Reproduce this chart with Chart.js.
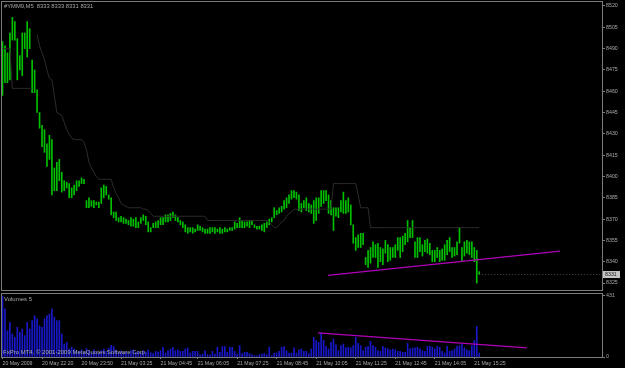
<!DOCTYPE html>
<html>
<head>
<meta charset="utf-8">
<script src="https://cdn.jsdelivr.net/npm/chart.js@4"></script>
<style>
  html, body { margin: 0; padding: 0; background: #000; }
  #wrap { position: relative; width: 625px; height: 368px; overflow: hidden; background: #000; }
  .pane { position: absolute; left: 0; width: 625px; }
  #mainPane { top: 0; height: 292px; }
  #volPane { top: 292px; height: 76px; }
</style>
</head>
<body>
<div id="wrap">
  <div class="pane" id="mainPane"><canvas id="priceChart" width="625" height="292"></canvas></div>
  <div class="pane" id="volPane"><canvas id="volChart" width="625" height="76"></canvas></div>
</div>
<script>
// YM (Dow mini) June 2009, 5 minute bars, 20 May 21:00 -> 21 May 15:35
const highs = [
  8495, 8492, 8487, 8501, 8512, 8509, 8497, 8485, 8501, 8501,
  8509, 8504, 8482, 8475, 8461, 8445, 8436, 8433, 8423, 8429,
  8426, 8406, 8410, 8412, 8403, 8397, 8396, 8395, 8392, 8394,
  8397, 8397, 8399, 8398, 8383, 8385, 8383, 8383, 8382, 8382,
  8392, 8394, 8393, 8387, 8385, 8375, 8375, 8371, 8372, 8371,
  8370, 8369, 8371, 8370, 8371, 8368, 8371, 8373, 8372, 8368,
  8364, 8367, 8368, 8369, 8371, 8371, 8373, 8373, 8374, 8375,
  8373, 8371, 8369, 8368, 8366, 8364, 8364, 8364, 8363, 8366,
  8365, 8364, 8363, 8363, 8364, 8364, 8364, 8363, 8364, 8363,
  8364, 8363, 8364, 8364, 8368, 8367, 8371, 8369, 8368, 8368,
  8369, 8369, 8366, 8365, 8365, 8366, 8367, 8368, 8370, 8371,
  8378, 8376, 8378, 8379, 8383, 8385, 8387, 8390, 8390, 8389,
  8387, 8381, 8383, 8385, 8381, 8380, 8383, 8385, 8385, 8390,
  8390, 8390, 8387, 8383, 8378, 8378, 8378, 8383, 8389, 8383,
  8385, 8380, 8366, 8357, 8359, 8360, 8360, 8343, 8348, 8350,
  8354, 8352, 8353, 8350, 8349, 8355, 8352, 8350, 8350, 8352,
  8357, 8357, 8358, 8360, 8369, 8364, 8369, 8354, 8357, 8357,
  8352, 8355, 8356, 8353, 8348, 8348, 8350, 8348, 8349, 8352,
  8355, 8357, 8350, 8350, 8354, 8364, 8350, 8354, 8355, 8354,
  8354, 8350, 8348, 8333
];
const lows = [
  8457, 8466, 8466, 8468, 8496, 8496, 8468, 8475, 8471, 8490,
  8484, 8490, 8459, 8459, 8445, 8434, 8421, 8417, 8407, 8412,
  8387, 8390, 8390, 8397, 8389, 8390, 8392, 8385, 8385, 8387,
  8390, 8393, 8395, 8395, 8378, 8378, 8379, 8378, 8380, 8378,
  8381, 8385, 8387, 8384, 8373, 8371, 8369, 8368, 8368, 8367,
  8367, 8366, 8365, 8365, 8364, 8364, 8367, 8369, 8366, 8361,
  8361, 8364, 8364, 8364, 8366, 8366, 8368, 8368, 8369, 8371,
  8369, 8368, 8366, 8364, 8361, 8360, 8361, 8360, 8361, 8362,
  8362, 8361, 8360, 8360, 8360, 8361, 8360, 8361, 8360, 8360,
  8361, 8361, 8362, 8362, 8363, 8364, 8364, 8364, 8364, 8365,
  8364, 8366, 8364, 8363, 8363, 8362, 8361, 8364, 8366, 8368,
  8371, 8373, 8374, 8375, 8377, 8378, 8381, 8384, 8385, 8384,
  8376, 8375, 8378, 8376, 8375, 8374, 8367, 8369, 8374, 8379,
  8381, 8383, 8374, 8373, 8362, 8372, 8371, 8375, 8374, 8374,
  8375, 8366, 8353, 8348, 8350, 8350, 8352, 8338, 8336, 8339,
  8343, 8343, 8336, 8340, 8338, 8346, 8340, 8341, 8343, 8343,
  8348, 8343, 8347, 8352, 8354, 8357, 8357, 8343, 8343, 8347,
  8344, 8347, 8346, 8345, 8340, 8340, 8343, 8340, 8341, 8341,
  8345, 8347, 8343, 8344, 8345, 8353, 8340, 8344, 8346, 8345,
  8343, 8340, 8325, 8331
];
// dark trailing line drawn over the bars
const trailStop = [
  8490, 8490, 8490, 8490,
  8462, 8462, 8462, 8462, 8462, 8462, 8462, 8462, 8462,
  null,
  8500, 8492, 8487, 8482, 8475, 8469, 8468, 8457, 8445, 8444,
  8443, 8438, 8433, 8430, 8427, 8426, 8426, 8426, 8426, 8424,
  8419, 8410, 8406, 8403, 8400,
  8398, 8398, 8398, 8398, 8398, 8398,
  8392, 8388, 8385, 8381, 8380, 8379,
  8378, 8378, 8378, 8378, 8378, 8378,
  8377, 8377, 8376, 8374,
  8372, 8372, 8372, 8372, 8372, 8372, 8372, 8372, 8372, 8372, 8372,
  8372, 8372, 8372, 8372, 8372, 8372, 8372, 8372, 8372, 8372, 8372,
  8369, 8369, 8369, 8369, 8369, 8369, 8369, 8369, 8369, 8369, 8369, 8369, 8369,
  8369, 8369, 8369, 8369, 8369, 8369, 8369, 8369, 8369, 8369, 8369, 8369,
  8368, 8366, 8364, 8364, 8366, 8368, 8369, 8372, 8374, 8375,
  8377, 8377, 8377, 8377, 8377, 8377, 8377, 8377,
  8377, 8377, 8377, 8377, 8377, 8377, 8377, 8377,
  8395, 8395, 8395, 8395, 8395, 8395, 8395, 8395, 8395, 8395,
  8387,
  8378, 8378, 8378, 8378,
  8364, 8364, 8364, 8364, 8364, 8364, 8364, 8364, 8364, 8364, 8364, 8364, 8364, 8364, 8364,
  8364, 8364, 8364, 8364, 8364, 8364, 8364, 8364, 8364, 8364, 8364, 8364, 8364, 8364, 8364,
  8364, 8364, 8364, 8364, 8364, 8364, 8364, 8364, 8364, 8364, 8364, 8364, 8364, 8364, 8364
];
const volumes = [
  431, 340, 186, 245, 163, 139, 210, 175, 198, 151,
  245, 198, 257, 292, 269, 221, 210, 269, 292, 304,
  340, 281, 257, 257, 163, 92, 104, 57, 69,
  57, 45, 40, 52, 35, 60, 45, 30, 50, 38, 28, 45, 55, 40, 62, 82, 75, 48,
  35, 42, 30, 38, 25, 45, 52, 33, 40, 28, 45, 35, 50, 30, 25, 40, 35,
  45, 69, 28, 45, 57, 69, 45, 50, 40, 40, 57, 64, 28, 40, 40, 40, 16,
  21, 45, 16, 16, 40, 21, 69, 33, 74, 74, 33, 69, 69, 40, 21, 80, 24,
  33, 33, 24, 16, 9, 9, 16, 21, 24, 16, 69, 9, 28, 28, 40, 69, 74, 45,
  28, 28, 64, 28, 50, 57, 40, 40, 24, 57, 139, 116, 104,
  170, 118, 75, 57, 104, 127, 87, 45, 80, 92, 64, 69, 64, 80, 139, 97,
  80, 45, 69, 75, 111, 80, 69, 45, 40, 75, 64, 57, 50, 57, 50, 40, 40,
  33, 33, 97, 57, 64, 64, 69, 57, 45, 40, 75, 75, 69, 57, 75, 69, 40,
  28, 75, 40, 45, 57, 75, 80, 92, 64, 50, 45, 80, 118, 217, 28
];

// time axis labels and the bar index each one sits on
const timeLabels = ['20 May 2009', '20 May 22:20', '20 May 23:50', '21 May 03:25', '21 May 04:45',
  '21 May 06:05', '21 May 07:25', '21 May 08:45', '21 May 10:05', '21 May 11:25',
  '21 May 12:45', '21 May 14:05', '21 May 15:25'];
const timeTickIdx = [0, 16, 32, 48, 64, 79, 95, 111, 127, 143, 159, 175, 191];
const priceTicks = [8325, 8340, 8355, 8370, 8385, 8400, 8415, 8430, 8445, 8460, 8475, 8490, 8505, 8520];
const volumeTicks = [0, 431];

// hand drawn trend lines: [bar index, value]
const priceTrend = [[131.8, 8330.4], [225.7, 8347.5]];
const volumeTrend = [[127.7, 170], [212.3, 64]];

const chartTitle = '#YMM9,M5  8333 8333 8331 8331';
const bidPrice = 8331;

const xMin = -0.2, xMax = 242.7;
const textColor = '#a8a8a8';
const frameColor = '#7c7c7c';
const fontFamily = '"Liberation Sans", Arial, sans-serif';

Chart.defaults.font.family = fontFamily;

function noPad(s) {
  s.paddingTop = 0; s.paddingBottom = 0; s.paddingLeft = 0; s.paddingRight = 0;
}

// price pane
const priceChart = new Chart(document.getElementById('priceChart').getContext('2d'), {
  type: 'bar',
  data: {
    datasets: [
      {
        type: 'line',
        data: priceTrend.map(p => ({ x: p[0], y: p[1] })),
        borderColor: '#b000b8',
        borderWidth: 1.2,
        pointRadius: 0,
        order: 0
      },
      {
        type: 'line',
        data: [{ x: highs.length - 1, y: bidPrice }, { x: xMax, y: bidPrice }],
        borderColor: '#4a4a4a',
        borderWidth: 1,
        borderDash: [1, 2],
        pointRadius: 0,
        order: 1
      },
      {
        type: 'line',
        data: trailStop.map((v, i) => ({ x: i, y: v })),
        borderColor: '#2c2c2c',
        borderWidth: 1,
        pointRadius: 0,
        tension: 0,
        order: 1
      },
      {
        data: highs.map((h, i) => ({ x: i, y: [lows[i], h] })),
        backgroundColor: '#00c000',
        borderWidth: 0,
        barThickness: 1,
        order: 2
      }
    ]
  },
  options: {
    responsive: false,
    animation: false,
    layout: { padding: { left: 2, top: 2, bottom: 2, right: 0 } },
    plugins: { legend: { display: false }, tooltip: { enabled: false } },
    scales: {
      x: { type: 'linear', min: xMin, max: xMax, offset: false, display: false, grid: { offset: false } },
      y: {
        position: 'right',
        min: 8320.1,
        max: 8522.8,
        afterBuildTicks: s => { s.ticks = priceTicks.map(v => ({ value: v })); },
        afterFit: s => { s.width = 23; noPad(s); },
        grid: { drawOnChartArea: false, drawTicks: true, tickLength: 3, color: frameColor },
        border: { display: false },
        ticks: { color: textColor, font: { size: 5.3 }, padding: 1, callback: v => String(v) }
      }
    }
  },
  plugins: [{
    id: 'priceFrame',
    afterDraw(chart) {
      const ctx = chart.ctx;
      ctx.save();
      ctx.strokeStyle = frameColor;
      ctx.lineWidth = 1;
      ctx.strokeRect(1.5, 1.5, 601, 289);
      ctx.fillStyle = textColor;
      ctx.textBaseline = 'middle';
      ctx.font = '5.8px ' + fontFamily;
      ctx.fillText(chartTitle, 4, 6.5);
      // current price box on the axis
      const yb = chart.scales.y.getPixelForValue(bidPrice);
      ctx.fillStyle = '#c4c4c4';
      ctx.fillRect(603, yb - 3.5, 17, 7);
      ctx.fillStyle = '#202020';
      ctx.font = '5.3px ' + fontFamily;
      ctx.fillText(String(bidPrice), 605, yb + 0.3);
      ctx.restore();
    }
  }]
});

// volume pane
const volChart = new Chart(document.getElementById('volChart').getContext('2d'), {
  type: 'bar',
  data: {
    datasets: [
      {
        type: 'line',
        data: volumeTrend.map(p => ({ x: p[0], y: p[1] })),
        borderColor: '#b000b8',
        borderWidth: 1.2,
        pointRadius: 0,
        order: 0
      },
      {
        data: volumes.map((v, i) => ({ x: i, y: v })),
        backgroundColor: '#1818c8',
        borderWidth: 0,
        barThickness: 1,
        order: 1
      }
    ]
  },
  options: {
    responsive: false,
    animation: false,
    layout: { padding: { left: 2, top: 2, bottom: 0, right: 0 } },
    plugins: { legend: { display: false }, tooltip: { enabled: false } },
    scales: {
      x: {
        type: 'linear',
        min: xMin,
        max: xMax,
        offset: false,
        afterBuildTicks: s => { s.ticks = timeTickIdx.map(v => ({ value: v })); },
        afterFit: s => { s.height = 11; noPad(s); },
        grid: { offset: false, drawOnChartArea: false, drawTicks: true, tickLength: 2, color: frameColor },
        border: { display: false },
        ticks: {
          color: textColor,
          font: { size: 5.2 },
          padding: 1,
          align: 'start',
          autoSkip: false,
          maxRotation: 0,
          minRotation: 0,
          callback: v => timeLabels[timeTickIdx.indexOf(v)]
        }
      },
      y: {
        position: 'right',
        min: 0,
        max: 445,
        afterBuildTicks: s => { s.ticks = volumeTicks.map(v => ({ value: v })); },
        afterFit: s => { s.width = 23; noPad(s); },
        grid: { drawOnChartArea: false, drawTicks: true, tickLength: 3, color: frameColor },
        border: { display: false },
        ticks: { color: textColor, font: { size: 5.3 }, padding: 1 }
      }
    }
  },
  plugins: [{
    id: 'volFrame',
    afterDraw(chart) {
      const ctx = chart.ctx;
      ctx.save();
      ctx.strokeStyle = frameColor;
      ctx.lineWidth = 1;
      ctx.strokeRect(1.5, 1.5, 601, 64);
      ctx.fillStyle = textColor;
      ctx.textBaseline = 'middle';
      ctx.font = '6px ' + fontFamily;
      ctx.fillText('Volumes 5', 4, 7.5);
      ctx.fillText('FxPro MT4, © 2001-2009 MetaQuotes Software Corp.', 3, 60);
      ctx.restore();
    }
  }]
});
</script>
</body>
</html>
